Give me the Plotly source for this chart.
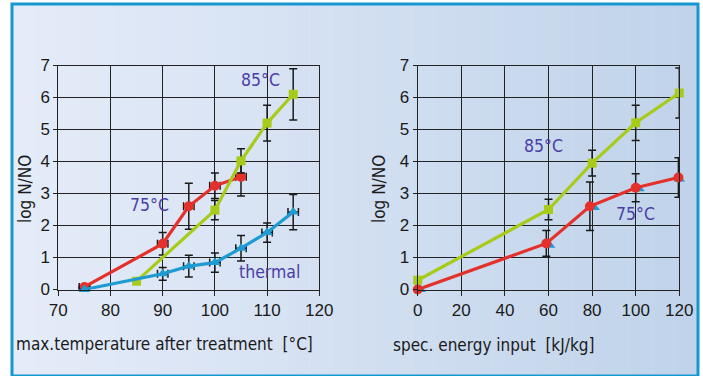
import plotly.graph_objects as go

# ---------------- data ----------------
# left chart: max. temperature after treatment [°C]
t_red_x = [75, 90, 95, 100, 105]
t_red_y = [0.08, 1.43, 2.6, 3.24, 3.52]
t_red_err = [0, 0.35, 0.72, 0.4, 0.6]

t_green_x = [85, 100, 105, 110, 115]
t_green_y = [0.26, 2.48, 4.02, 5.2, 6.1]
t_green_err = [0, 0.3, 0.38, 0.56, 0.8]

t_blue_x = [75, 90, 95, 100, 105, 110, 115]
t_blue_y = [0.0, 0.49, 0.73, 0.84, 1.29, 1.78, 2.42]
t_blue_err = [0, 0.2, 0.34, 0.3, 0.4, 0.3, 0.55]

# right chart: spec. energy input [kJ/kg]
e_green_x = [0, 60, 80, 100, 120]
e_green_y = [0.29, 2.5, 3.95, 5.21, 6.14]
e_green_err = [0, 0.32, 0.4, 0.55, 0.78]

e_red_x = [0, 59, 79, 100, 119.6]
e_red_y = [0.0, 1.44, 2.6, 3.18, 3.5]
e_red_err = [0, 0.4, 0.76, 0.44, 0.62]

e_blue_x = [1.2, 60.5, 81, 101.5, 120]
e_blue_y = [0.0, 1.38, 2.56, 3.15, 3.45]

left_xticks = [70, 80, 90, 100, 110, 120]
right_xticks = [0, 20, 40, 60, 80, 100, 120]
yticks = [0, 1, 2, 3, 4, 5, 6, 7]

# ---------------- style ----------------
RED = "#E5312B"
GREEN = "#A8CB1A"
BLUE = "#1E9BD2"
LABEL = "#4A3DA6"
FONT = "DejaVu Sans Condensed, Liberation Sans, Arial, sans-serif"
TICKFONT = "Liberation Sans, Arial, sans-serif"
W, H = 703, 376

fig = go.Figure()

def err(vals, show=True):
    return dict(type="data", array=vals, visible=show, color="#1a1a1a",
                thickness=1.5, width=4)

def xerr(val):
    return dict(type="constant", value=val, visible=True, color="#1a1a1a",
                thickness=1.5, width=4)

# left
fig.add_trace(go.Scatter(x=t_red_x, y=t_red_y, mode="lines+markers",
    line=dict(color=RED, width=3.2), marker=dict(symbol="circle", size=10, color=RED),
    error_y=err(t_red_err), error_x=xerr(1), cliponaxis=False,
    xaxis="x", yaxis="y", showlegend=False))
fig.add_trace(go.Scatter(x=t_green_x, y=t_green_y, mode="lines+markers",
    line=dict(color=GREEN, width=3.2), marker=dict(symbol="square", size=9, color=GREEN),
    error_y=err(t_green_err), cliponaxis=False,
    xaxis="x", yaxis="y", showlegend=False))
fig.add_trace(go.Scatter(x=t_blue_x, y=t_blue_y, mode="lines+markers",
    line=dict(color=BLUE, width=3.2), marker=dict(symbol="triangle-up", size=10, color=BLUE),
    error_y=err(t_blue_err), error_x=xerr(1), cliponaxis=False,
    xaxis="x", yaxis="y", showlegend=False))

# right
fig.add_trace(go.Scatter(x=e_blue_x, y=e_blue_y, mode="markers",
    marker=dict(symbol="triangle-up", size=10, color=BLUE), cliponaxis=False,
    xaxis="x2", yaxis="y2", showlegend=False))
fig.add_trace(go.Scatter(x=e_green_x, y=e_green_y, mode="lines+markers",
    line=dict(color=GREEN, width=3.2), marker=dict(symbol="square", size=9, color=GREEN),
    error_y=err(e_green_err), cliponaxis=False,
    xaxis="x2", yaxis="y2", showlegend=False))
fig.add_trace(go.Scatter(x=e_red_x, y=e_red_y, mode="lines+markers",
    line=dict(color=RED, width=3.2), marker=dict(symbol="circle", size=10, color=RED),
    error_y=err(e_red_err), cliponaxis=False,
    xaxis="x2", yaxis="y2", showlegend=False))

# ---------------- background (gradient panel + border) ----------------
shapes = []
x0p, x1p, y0p, y1p = 12, 698, 4, 376
c0 = (0xE5, 0xEC, 0xF9)
c1 = (0xC0, 0xD3, 0xEA)
N = 60
for i in range(N):
    f = i / (N - 1)
    col = "rgb(%d,%d,%d)" % tuple(round(a + (b - a) * f) for a, b in zip(c0, c1))
    xa = x0p + (x1p - x0p) * i / N
    xb = min(x0p + (x1p - x0p) * (i + 1) / N + 0.5, x1p)
    shapes.append(dict(type="rect", xref="paper", yref="paper", layer="below",
                       x0=xa / W, x1=xb / W, y0=1 - y1p / H, y1=1 - y0p / H,
                       fillcolor=col, line=dict(width=0)))
shapes.append(dict(type="rect", xref="paper", yref="paper", layer="below",
                   x0=x0p / W, x1=x1p / W, y0=1 - y1p / H, y1=1 - y0p / H,
                   fillcolor="rgba(0,0,0,0)", line=dict(color="#1597CF", width=3)))

def axis_common(ticklen):
    return dict(showgrid=True, gridcolor="#222222", gridwidth=1,
                showline=True, linecolor="#222222", linewidth=1, mirror=True,
                ticks="outside", ticklen=ticklen, tickcolor="#222222", tickwidth=1,
                zeroline=False, automargin=False,
                tickfont=dict(family=TICKFONT, size=17, color="#1a1a1a"))

ydom = [1 - 289.5 / H, 1 - 65.5 / H]
fig.update_layout(
    width=W, height=H, autosize=False,
    margin=dict(l=0, r=0, t=0, b=0, pad=0, autoexpand=False),
    paper_bgcolor="white", plot_bgcolor="rgba(0,0,0,0)",
    shapes=shapes,
    xaxis=dict(domain=[58.3 / W, 319.3 / W], range=[70, 120], tickvals=left_xticks,
               anchor="y", **axis_common(5)),
    yaxis=dict(domain=ydom, range=[0, 7], tickvals=yticks, anchor="x", **axis_common(4)),
    xaxis2=dict(domain=[417.7 / W, 679.3 / W], range=[0, 120], tickvals=right_xticks,
                anchor="y2", **axis_common(5)),
    yaxis2=dict(domain=ydom, range=[0, 7], tickvals=yticks, anchor="x2", **axis_common(4)),
)

ann_font = dict(family=FONT, size=17.5, color=LABEL)
title_font = dict(family=FONT, size=17, color="#1a1a1a")
annotations = [
    dict(x=108.8, y=6.55, xref="x", yref="y", text="85°C", showarrow=False, font=ann_font),
    dict(x=87.4, y=2.64, xref="x", yref="y", text="75°C", showarrow=False, font=ann_font),
    dict(x=110.5, y=0.55, xref="x", yref="y", text="thermal", showarrow=False, font=ann_font),
    dict(x=57.5, y=4.49, xref="x2", yref="y2", text="85°C", showarrow=False, font=ann_font),
    dict(x=99.7, y=2.37, xref="x2", yref="y2", text="75°C", showarrow=False, font=ann_font),
    dict(x=14 / W, y=1 - 344 / H, xref="paper", yref="paper", xanchor="left", yanchor="middle",
         text="max.temperature after treatment \u00a0[°C]", showarrow=False, font=title_font),
    dict(x=391 / W, y=1 - 345 / H, xref="paper", yref="paper", xanchor="left", yanchor="middle",
         text="spec. energy input \u00a0[kJ/kg]", showarrow=False, font=title_font),
    dict(x=25 / W, y=1 - 189 / H, xref="paper", yref="paper", textangle=-90,
         xanchor="center", yanchor="middle",
         text="log N/NO", showarrow=False, font=title_font),
    dict(x=379 / W, y=1 - 189 / H, xref="paper", yref="paper", textangle=-90,
         xanchor="center", yanchor="middle",
         text="log N/NO", showarrow=False, font=title_font),
]
fig.update_layout(annotations=annotations)

fig.write_html("out.html")
